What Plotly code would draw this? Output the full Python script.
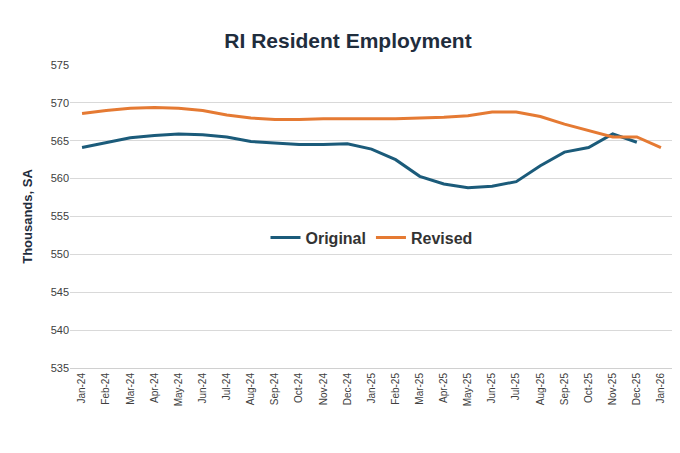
import plotly.graph_objects as go

months = ["Jan-24","Feb-24","Mar-24","Apr-24","May-24","Jun-24","Jul-24","Aug-24","Sep-24","Oct-24","Nov-24","Dec-24",
          "Jan-25","Feb-25","Mar-25","Apr-25","May-25","Jun-25","Jul-25","Aug-25","Sep-25","Oct-25","Nov-25","Dec-25","Jan-26"]
original = [564.1,564.8,565.4,565.7,565.9,565.8,565.5,564.9,564.7,564.5,564.5,564.6,
            563.9,562.5,560.3,559.3,558.8,559.0,559.6,561.7,563.5,564.1,565.9,564.8]
revised = [568.6,569.0,569.3,569.4,569.3,569.0,568.4,568.0,567.8,567.8,567.9,567.9,
           567.9,567.9,568.0,568.1,568.3,568.8,568.8,568.2,567.2,566.3,565.5,565.5,564.1]

fig = go.Figure()
fig.add_trace(go.Scatter(x=months[:len(original)], y=original, mode="lines", name="<b>Original</b>",
                         line=dict(color="#1b5b7a", width=3)))
fig.add_trace(go.Scatter(x=months, y=revised, mode="lines", name="<b>Revised</b>",
                         line=dict(color="#e57a33", width=3)))
fig.update_layout(
    width=680, height=453, paper_bgcolor="white", plot_bgcolor="white",
    font=dict(family="Liberation Sans, Arial", color="#404040"),
    title=dict(text="<b>RI Resident Employment</b>", x=0.5, y=0.945, xanchor="center",
               font=dict(size=21, color="#1f2d3d")),
    margin=dict(l=62, r=15, t=57, b=93),
    legend=dict(orientation="h", x=0.5, y=0.43, xanchor="center", yanchor="middle",
                font=dict(size=16, color="#333333"), bgcolor="rgba(0,0,0,0)"),
    xaxis=dict(tickangle=-90, tickfont=dict(size=10), showgrid=False, automargin=False,
               range=[-0.5, len(months) - 0.5],
               showline=True, linecolor="#d0d0d0", ticks=""),
    yaxis=dict(range=[535, 575], dtick=5, gridcolor="#d9d9d9", tickfont=dict(size=11),
               zeroline=False, automargin=False,
               title=dict(text="<b>Thousands, SA</b>", font=dict(size=13, color="#1f2d3d"))),
)
fig.write_html("out.html")
